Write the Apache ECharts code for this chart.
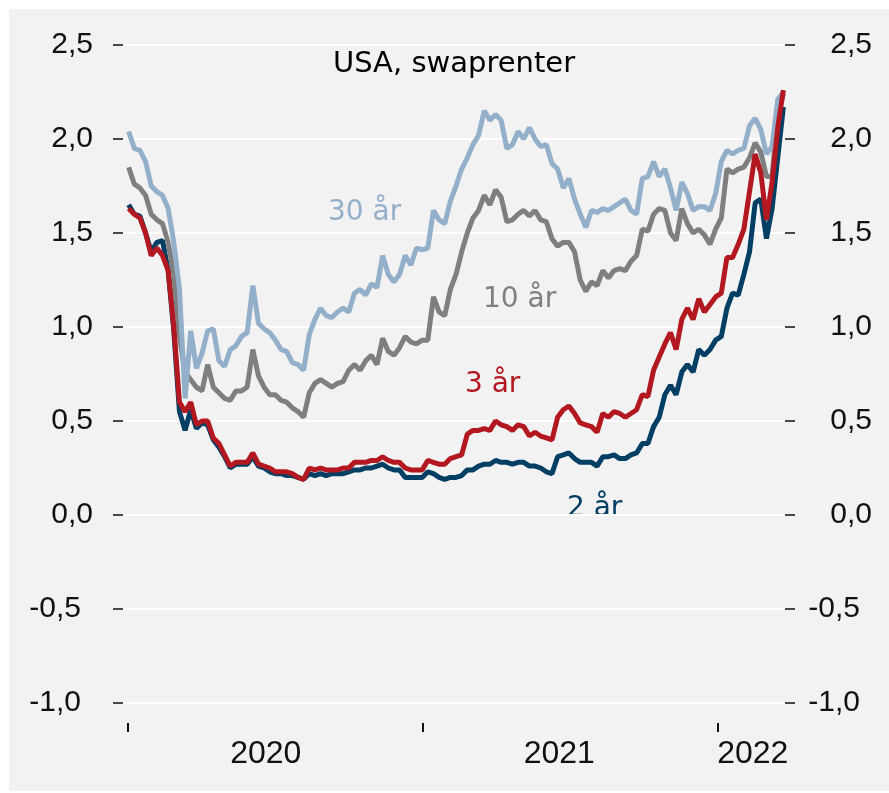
<!DOCTYPE html>
<html>
<head>
<meta charset="utf-8">
<script src="https://cdn.jsdelivr.net/npm/echarts@6/dist/echarts.min.js"></script>
<style>
    html, body { margin: 0; padding: 0; background: #ffffff; }
    #chart { width: 889px; height: 793px; }
</style>
</head>
<body>
<div id="chart"></div>
<script>
// weekly observations, first one on 2 Jan 2020
var startDate = Date.UTC(2020, 0, 2);
var stepDays = 7;

// USD swap rates, percent
var rate2y = [1.65,1.60,1.59,1.50,1.40,1.45,1.46,1.30,0.98,0.55,
    0.45,0.56,0.46,0.49,0.48,0.40,0.36,0.31,0.25,0.27,
    0.27,0.27,0.31,0.26,0.25,0.23,0.22,0.22,0.21,0.21,
    0.20,0.19,0.22,0.21,0.22,0.21,0.22,0.22,0.22,0.23,
    0.24,0.24,0.25,0.25,0.26,0.27,0.25,0.24,0.24,0.20,
    0.20,0.20,0.20,0.23,0.22,0.20,0.19,0.20,0.20,0.21,
    0.24,0.24,0.26,0.27,0.27,0.29,0.28,0.28,0.27,0.28,
    0.28,0.26,0.26,0.25,0.23,0.22,0.31,0.32,0.33,0.30,
    0.28,0.28,0.28,0.26,0.31,0.31,0.32,0.30,0.30,0.32,
    0.33,0.38,0.38,0.47,0.52,0.64,0.69,0.64,0.76,0.80,
    0.76,0.88,0.85,0.88,0.93,0.95,1.10,1.18,1.17,1.28,
    1.40,1.66,1.68,1.47,1.63,1.90,2.17];
var rate3y = [1.63,1.60,1.58,1.50,1.38,1.42,1.38,1.30,1.00,0.60,
    0.55,0.60,0.48,0.50,0.50,0.41,0.38,0.32,0.26,0.28,
    0.28,0.28,0.33,0.27,0.26,0.25,0.23,0.23,0.23,0.22,
    0.20,0.19,0.25,0.24,0.25,0.24,0.24,0.24,0.25,0.25,
    0.28,0.28,0.28,0.29,0.29,0.31,0.29,0.28,0.28,0.25,
    0.24,0.24,0.24,0.29,0.28,0.27,0.27,0.30,0.31,0.32,
    0.43,0.45,0.45,0.46,0.45,0.50,0.48,0.47,0.45,0.48,
    0.47,0.42,0.44,0.42,0.41,0.40,0.52,0.56,0.58,0.54,
    0.49,0.48,0.47,0.44,0.54,0.52,0.55,0.54,0.52,0.54,
    0.56,0.64,0.63,0.77,0.84,0.91,0.97,0.88,1.04,1.10,
    1.04,1.15,1.08,1.12,1.16,1.18,1.37,1.37,1.44,1.52,
    1.72,1.92,1.82,1.57,1.77,2.06,2.26];
var rate10y = [1.85,1.76,1.74,1.70,1.60,1.57,1.55,1.45,1.28,0.95,
    0.76,0.72,0.68,0.66,0.80,0.68,0.65,0.62,0.61,0.66,
    0.66,0.68,0.88,0.74,0.68,0.64,0.64,0.61,0.60,0.57,
    0.55,0.52,0.65,0.70,0.72,0.70,0.68,0.70,0.71,0.77,
    0.80,0.77,0.82,0.85,0.80,0.94,0.87,0.85,0.89,0.95,
    0.92,0.91,0.93,0.93,1.16,1.08,1.06,1.20,1.28,1.40,
    1.50,1.58,1.62,1.70,1.65,1.73,1.69,1.56,1.57,1.60,
    1.62,1.59,1.62,1.57,1.56,1.47,1.43,1.45,1.45,1.40,
    1.25,1.19,1.24,1.22,1.30,1.26,1.30,1.31,1.30,1.35,
    1.38,1.52,1.51,1.60,1.63,1.62,1.50,1.46,1.63,1.55,
    1.50,1.52,1.49,1.44,1.52,1.58,1.84,1.82,1.84,1.85,
    1.90,1.98,1.93,1.80,1.80,2.14,2.24];
var rate30y = [2.04,1.95,1.94,1.88,1.75,1.72,1.70,1.63,1.45,1.20,
    0.62,0.98,0.78,0.86,0.98,0.99,0.82,0.79,0.88,0.90,
    0.95,0.97,1.22,1.02,0.99,0.97,0.93,0.88,0.87,0.81,
    0.80,0.77,0.96,1.04,1.10,1.06,1.05,1.08,1.10,1.08,
    1.18,1.20,1.17,1.23,1.21,1.38,1.28,1.24,1.28,1.38,
    1.33,1.42,1.41,1.42,1.62,1.57,1.55,1.67,1.75,1.84,
    1.90,1.97,2.02,2.15,2.10,2.13,2.10,1.95,1.97,2.04,
    2.00,2.06,2.00,1.96,1.97,1.87,1.84,1.74,1.79,1.68,
    1.60,1.53,1.62,1.61,1.63,1.62,1.64,1.66,1.68,1.62,
    1.60,1.79,1.80,1.88,1.80,1.84,1.74,1.62,1.77,1.71,
    1.62,1.64,1.64,1.62,1.71,1.88,1.94,1.92,1.94,1.95,
    2.07,2.11,2.05,1.92,1.96,2.21,2.25];

// where the year ticks and the year labels sit on the date axis
var yearTicks = ['2020-01-01', '2021-01-01', '2022-01-01'];
var yearLabelDates = ['2020-06-20', '2021-06-19', '2022-02-14'];

var seriesNames = ['2 år', '10 år', '30 år', '3 år'];
var seriesData = [rate2y, rate10y, rate30y, rate3y];
var seriesColors = ['#003e63', '#7f7f7f', '#93afc9', '#b3171f'];

function ts(s) {
    var p = s.split('-');
    return Date.UTC(+p[0], +p[1] - 1, +p[2]);
}
function pairs(values) {
    var out = [];
    for (var i = 0; i < values.length; i++) {
        out.push([startDate + i * stepDays * 86400000, values[i]]);
    }
    return out;
}
function fmtY(v) {
    var s = v.toFixed(1).replace('.', ',');
    return v < 0 ? '{neg|' + s + '}' : s;
}

var labelFont = '"Liberation Sans"';
var titleFont = '"DejaVu Sans"';

function yLabel(extra) {
    var o = {
        fontSize: 30,
        color: '#111',
        fontFamily: labelFont,
        formatter: fmtY,
        rich: {
            neg: { fontSize: 30, color: '#111', fontFamily: labelFont, padding: [0, 12, 0, 0] }
        }
    };
    for (var k in extra) o[k] = extra[k];
    return o;
}

var chart = echarts.init(document.getElementById('chart'));
chart.setOption({
    backgroundColor: '#ffffff',
    animation: false,
    graphic: [
        { type: 'rect', z: -10, shape: { x: 9, y: 9, width: 880, height: 782 }, style: { fill: '#f2f2f2' } },
        { type: 'text', x: 454, y: 64, style: { text: 'USA, swaprenter', fill: '#000', font: '29px ' + titleFont, textAlign: 'center', textVerticalAlign: 'middle' } },
        { type: 'text', x: 328, y: 213, style: { text: '30 år', fill: '#93afc9', font: '28px ' + titleFont, textVerticalAlign: 'middle' } },
        { type: 'text', x: 483, y: 300, style: { text: '10 år', fill: '#7f7f7f', font: '28px ' + titleFont, textVerticalAlign: 'middle' } },
        { type: 'text', x: 465, y: 385, style: { text: '3 år', fill: '#b3171f', font: '28px ' + titleFont, textVerticalAlign: 'middle' } },
        { type: 'text', x: 567, y: 509, style: { text: '2 år', fill: '#003e63', font: '28px ' + titleFont, textVerticalAlign: 'middle' } }
    ],
    grid: { left: 123, right: 104, top: 45, bottom: 90 },
    xAxis: {
        type: 'value',
        min: ts('2019-12-26'),
        max: ts('2022-03-26'),
        offset: 20,
        axisLine: { show: false, onZero: false },
        axisTick: {
            show: true,
            length: 9,
            lineStyle: { color: '#111', width: 2 },
            customValues: yearTicks.map(ts)
        },
        axisLabel: {
            fontSize: 32,
            color: '#111',
            fontFamily: labelFont,
            margin: 15,
            customValues: yearLabelDates.map(ts),
            formatter: function (v) { return String(new Date(v).getUTCFullYear()); }
        },
        splitLine: { show: false }
    },
    yAxis: [
        {
            type: 'value',
            min: -1, max: 2.5, interval: 0.5,
            axisLine: { show: false },
            axisTick: { show: true, length: 10, lineStyle: { color: '#111', width: 1.5 } },
            axisLabel: yLabel({ margin: 30 }),
            splitLine: { show: true, lineStyle: { color: '#ffffff', width: 2 } }
        },
        {
            type: 'value',
            position: 'right',
            min: -1, max: 2.5, interval: 0.5,
            axisLine: { show: false },
            axisTick: { show: true, length: 10, lineStyle: { color: '#111', width: 1.5 } },
            axisLabel: yLabel({ margin: 87, align: 'right' }),
            splitLine: { show: false }
        }
    ],
    series: seriesNames.map(function (name, k) {
        return {
            name: name,
            type: 'line',
            data: pairs(seriesData[k]),
            showSymbol: false,
            symbol: 'none',
            lineStyle: { color: seriesColors[k], width: 5 },
            itemStyle: { color: seriesColors[k] },
            z: 2 + k
        };
    })
});
</script>
</body>
</html>
